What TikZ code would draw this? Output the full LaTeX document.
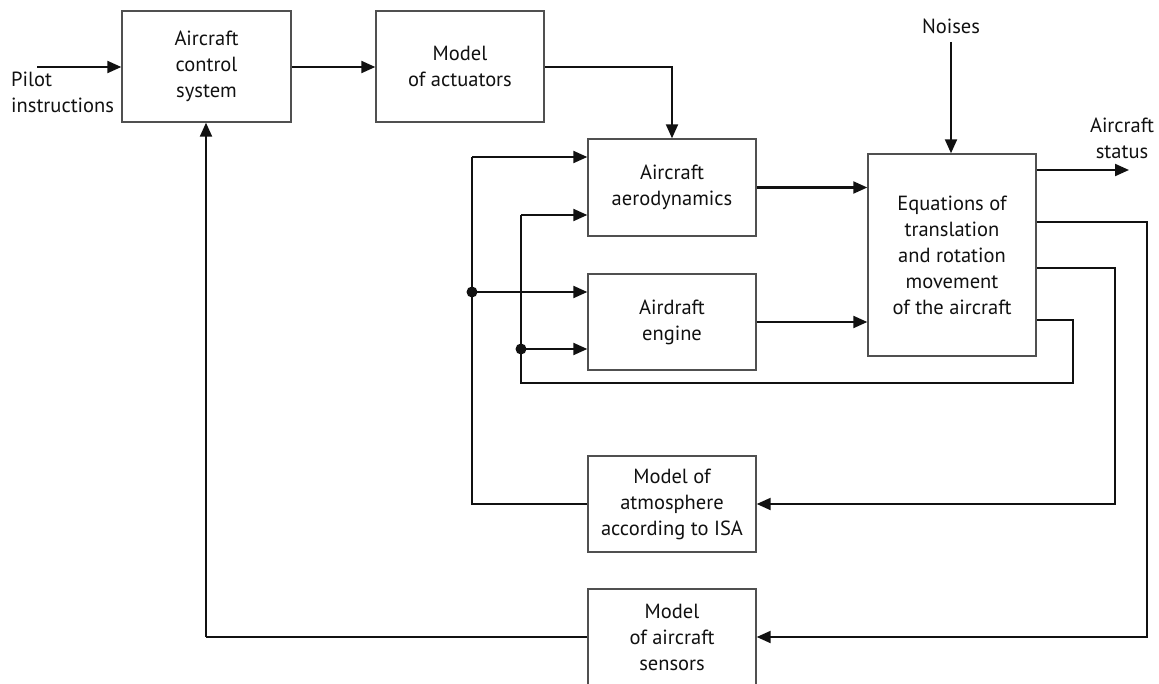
\documentclass[tikz,border=0pt]{standalone}
\usepackage{fontspec}
\setmainfont{PT Sans}
\usetikzlibrary{arrows.meta,calc}
\definecolor{boxgray}{HTML}{505050}
\definecolor{ink}{HTML}{111111}
\begin{document}
\begin{tikzpicture}[x=1pt,y=-1pt,
  blk/.style={draw=boxgray,line width=1.4pt,fill=white,minimum width=168pt,align=center,inner sep=0pt,
    font=\fontsize{20.5}{26}\selectfont,text=ink},
  lbl/.style={align=center,inner sep=0pt,font=\fontsize{20.5}{26}\selectfont,text=ink},
  con/.style={draw=ink,line width=2.1pt},
  arr/.style={con,-{Triangle[length=14pt,width=12pt]}},
  jdot/.style={circle,fill=ink,inner sep=0pt,minimum size=11pt}]
\useasboundingbox (0,0) rectangle (1159,684);
\clip (0,0) rectangle (1159,684);
\fill[white] (0,0) rectangle (1159,684);

\node[blk,minimum width=169pt,minimum height=111pt] (ctrl) at (206.5,66.5) {Aircraft\\control\\system};
\node[blk,minimum height=111pt] (act) at (460,66.5) {Model\\of actuators};
\node[blk,minimum height=97pt] (aero) at (672,187.5) {Aircraft\\aerodynamics};
\node[blk,minimum height=96pt] (eng) at (672,322) {Airdraft\\engine};
\node[blk,minimum height=202pt] (eq) at (952,255) {Equations of\\translation\\and rotation\\movement\\of the aircraft};
\node[blk,minimum height=96pt] (atm) at (672,504) {Model of\\atmosphere\\according to ISA};
\node[blk,minimum height=104pt,text depth=0pt] (sens) at (672,641) {};
\node[lbl] (senstxt) at (672,637) {Model\\of aircraft\\sensors};

\node[lbl,align=left,anchor=west] (pilot) at (11,92) {Pilot\\instructions};
\node[lbl] (noise) at (951,26) {Noises};
\node[lbl] (status) at (1122,138) {Aircraft\\status};

\coordinate (pin) at (37,67);
\coordinate (nstart) at (951,42);
\coordinate (sout) at (1129,170);

% forward path
\draw[arr] (pin) -- (ctrl.west |- pin);
\draw[arr] (ctrl.east |- pin) -- (act.west |- pin);
\draw[arr] (act.east |- pin) -| (aero.north);
\draw[arr] (aero.east) -- (aero.east -| eq.west);
\draw[arr] (eng.east) -- (eng.east -| eq.west);
\draw[arr] (nstart) -- (nstart |- eq.north);
\draw[arr] (eq.east |- sout) -- (sout);

% feedback to sensors
\draw[arr] (eq.east |- 0,222) -| (1147,637) -- (sens.east |- 0,637);
\draw[con] (sens.west |- 0,637) -| (206,637);
\draw[arr] (206,637) -- (ctrl.south -| 206,0);

% feedback to atmosphere
\draw[arr] (eq.east |- 0,268) -| (1115,504) -- (atm.east |- 0,504);
\draw[con] (atm.west |- 0,504) -| (472,157);
\draw[arr] (472,157) -- (aero.west |- 0,157);
\node[jdot] (d1) at (472,292) {};
\draw[arr] (d1.center) -- (eng.west |- d1);

% state loop
\draw[con] (eq.east |- 0,320) -| (1073,383) -| (521,215);
\draw[arr] (521,215) -- (aero.west |- 0,215);
\node[jdot] (d2) at (521,349) {};
\draw[arr] (d2.center) -- (eng.west |- d2);
\end{tikzpicture}
\end{document}
